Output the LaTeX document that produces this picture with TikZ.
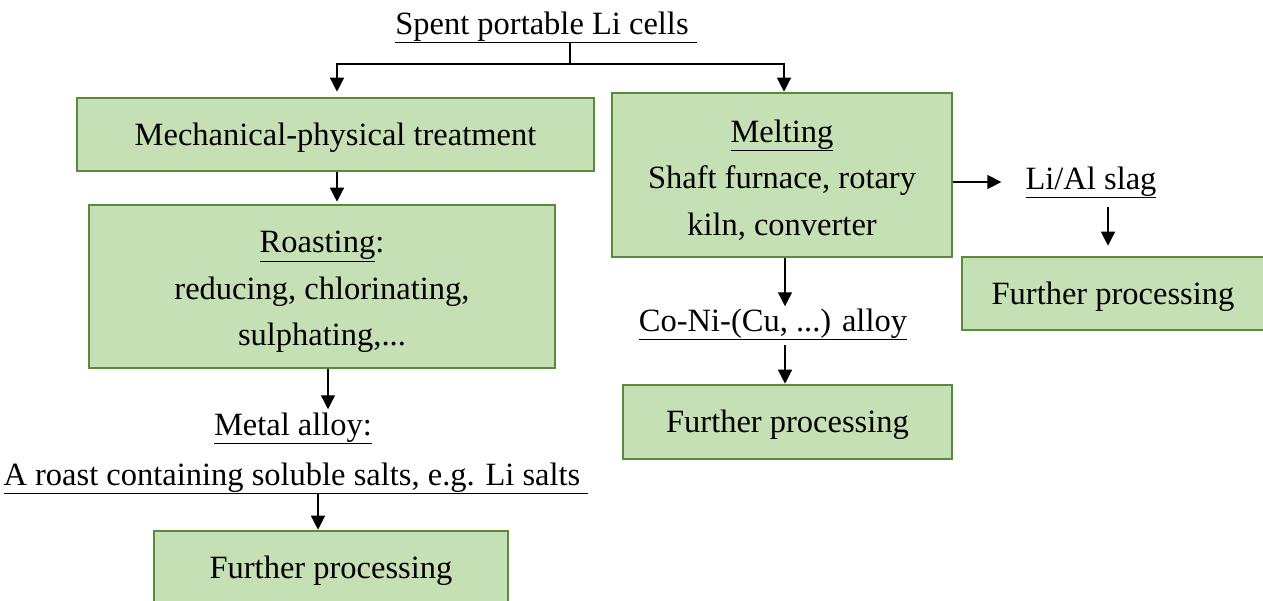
\documentclass[tikz,border=0pt]{standalone}
\usepackage{fontspec}
\setmainfont{Liberation Serif}
\usetikzlibrary{arrows.meta,calc}
\definecolor{boxfill}{HTML}{C5E0B4}
\definecolor{boxline}{HTML}{5A8A3C}
\newcommand{\fsz}{\fontsize{32.5}{46.5}\selectfont}
\newcommand{\toppad}{\rule{0pt}{32pt}}
\begin{document}
\begin{tikzpicture}[x=1pt,y=-1pt,
  box/.style={draw=boxline,fill=boxfill,line width=2.6pt,inner sep=0pt,align=center,font=\fsz},
  onebox/.style={box,text height=30pt,text depth=9pt},
  lbl/.style={inner sep=0pt,anchor=base,font=\fsz},
  conn/.style={line width=1.3pt,-{Triangle[width=14pt,length=14pt]}},
  plain/.style={line width=1.3pt}]
\useasboundingbox (0,0) rectangle (1263,600);
\clip (0,0) rectangle (1263,600);

% boxes
\node[onebox,minimum width=517pt,minimum height=73pt] (mech) at (335.5,134.5) {Mechanical-physical treatment};
\node[box,minimum width=340pt,minimum height=164pt] (melt) at (782,175) {\toppad\underline{Melting}\\Shaft furnace, rotary\\kiln, converter};
\node[box,minimum width=466pt,minimum height=163pt] (roast) at (322,286.5) {\toppad\underline{Roasting}:\\reducing, chlorinating,\\sulphating,...};
\node[onebox,minimum width=302pt,minimum height=73pt] (fp1) at (1113,293.5) {Further processing};
\node[onebox,minimum width=329pt,minimum height=74pt] (fp2) at (787.5,422) {Further processing};
\node[onebox,minimum width=354pt,minimum height=73pt] (fp3) at (331,567.5) {Further processing};

% labels
\node[lbl] (title) at (546,34) {\underline{Spent portable Li cells\ }};
\node[lbl] (slag) at (1091,189) {\underline{Li/Al slag}};
\node[lbl] (coni) at (773,331) {\underline{Co-Ni-(Cu, ...) alloy}};
\node[lbl] (metal) at (293,435) {\underline{Metal alloy:}};
\node[lbl] (roastsalt) at (296,485) {\underline{A roast containing soluble salts, e.g. Li salts\ }};

% connectors
\coordinate (split) at (570,64);
\draw[plain] (title.south -| split) -- (split);
\draw[conn] (split) -| ($(mech.north -| 337,0)+(0,-5)$);
\draw[conn] (split) -| (melt.north -| 784,0);
\draw[conn] (mech.south -| 337,0) -- ($(roast.north -| 337,0)+(0,-2)$);
\draw[conn] (roast.south -| 328,0) -- ($(metal.north -| 328,0)+(0,-3)$);
\draw[conn] (roastsalt.south -| 318,0) -- (fp3.north -| 318,0);
\draw[conn] (melt.east |- 0,182) -- ($(slag.west |- 0,182)+(-24,0)$);
\draw[conn] ($(slag.south -| 1108,0)+(0,9)$) -- ($(fp1.north -| 1108,0)+(0,-10)$);
\draw[conn] (melt.south -| 785,0) -- ($(coni.north -| 785,0)+(0,-2)$);
\draw[conn] ($(coni.south -| 785,0)+(0,5)$) -- (fp2.north -| 785,0);
\end{tikzpicture}
\end{document}
